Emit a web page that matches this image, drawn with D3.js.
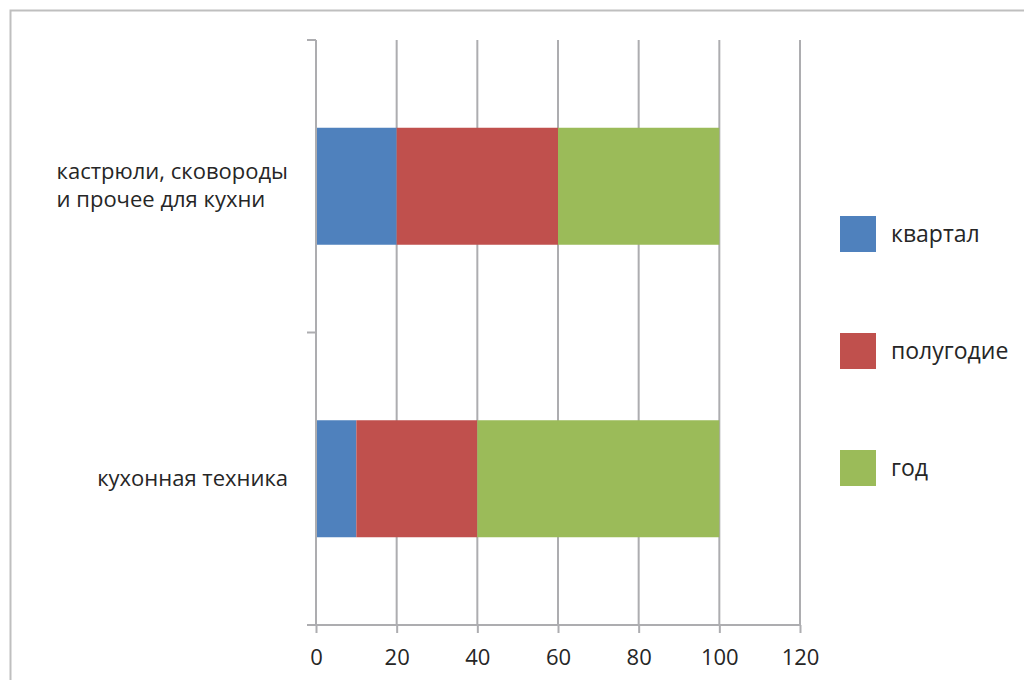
<!DOCTYPE html>
<html><head><meta charset="utf-8">
<script src="https://cdn.jsdelivr.net/npm/d3@7"></script>
<style>body{margin:0;background:#fff}svg{display:block}</style>
</head><body>
<script>
const categories = ["кастрюли, сковороды\nи прочее для кухни", "кухонная техника"];
const seriesNames = ["квартал", "полугодие", "год"];
const kvartal = [20, 10];
const polugodie = [40, 30];
const god = [40, 60];
const xTicks = [0, 20, 40, 60, 80, 100, 120];
const colors = ["#4F81BD", "#C0504D", "#9BBB59"];

const W = 1024, H = 680;
const svg = d3.select("body").append("svg").attr("width", W).attr("height", H);
const font = "'Open Sans', 'Noto Sans', sans-serif";
const txt = "#262626";
const grid = "#ADADB0";

// outer border
svg.append("rect").attr("x", 10.5).attr("y", 10.5).attr("width", W + 20).attr("height", H + 20)
  .attr("fill", "none").attr("stroke", "#BFBFBF").attr("stroke-width", 2);

const x = d3.scaleLinear().domain([0, 120]).range([316, 800]);
const y = d3.scaleBand().domain(categories).range([40, 625]).paddingInner(0.6).paddingOuter(0.3);

// gridlines
svg.append("g").selectAll("line").data(xTicks.slice(1)).join("line")
  .attr("x1", d => x(d)).attr("x2", d => x(d)).attr("y1", 40).attr("y2", 625)
  .attr("stroke", grid).attr("stroke-width", 2);

// stacked data
const rows = categories.map((c, i) => ({cat: c, "квартал": kvartal[i], "полугодие": polugodie[i], "год": god[i]}));
const stack = d3.stack().keys(seriesNames)(rows);
svg.append("g").selectAll("g").data(stack).join("g").attr("fill", (d, i) => colors[i])
  .selectAll("rect").data(d => d).join("rect")
  .attr("x", d => x(d[0])).attr("width", d => x(d[1]) - x(d[0]))
  .attr("y", d => y(d.data.cat)).attr("height", y.bandwidth());

// x axis
const xAxis = d3.axisBottom(x).tickValues(xTicks).tickSize(8).tickPadding(16);
const gx = svg.append("g").attr("transform", "translate(0,625)").call(xAxis);
gx.select(".domain").attr("stroke", grid).attr("stroke-width", 2).attr("d", `M307,0H${x(120)}`);
gx.selectAll(".tick line").attr("stroke", grid).attr("stroke-width", 2);
gx.selectAll("text").attr("font-family", font).attr("font-size", 22).attr("fill", txt);

// y axis
svg.append("line").attr("x1", x(0)).attr("x2", x(0)).attr("y1", 40).attr("y2", 625)
  .attr("stroke", grid).attr("stroke-width", 2);
const yBounds = [40, 40 + y.step(), 625];
svg.append("g").selectAll("line").data(yBounds).join("line")
  .attr("x1", 307).attr("x2", x(0)).attr("y1", d => d).attr("y2", d => d)
  .attr("stroke", grid).attr("stroke-width", 2);

// category labels (left-aligned block, right edge at 288), one text per line
const lineGap = 28;
const cg = svg.append("g").selectAll("g").data(categories).join("g");
cg.each(function(d) {
  const lines = d.split("\n");
  const g = d3.select(this);
  const cy = y(d) + y.bandwidth() / 2;
  const ts = g.selectAll("text").data(lines).join("text")
    .attr("text-anchor", "start").attr("font-family", font).attr("font-size", 22).attr("fill", txt)
    .attr("y", (l, i) => cy + 7 + (i - (lines.length - 1) / 2) * lineGap)
    .text(l => l);
  let maxW = 0;
  ts.each(function() { maxW = Math.max(maxW, this.getComputedTextLength()); });
  ts.attr("x", 288 - maxW);
});

// legend
const legY = [234, 351, 468];
const lg = svg.append("g").selectAll("g").data(seriesNames).join("g")
  .attr("transform", (d, i) => `translate(840,${legY[i]})`);
lg.append("rect").attr("x", 0).attr("y", -18).attr("width", 36).attr("height", 36).attr("fill", (d, i) => colors[i]);
lg.append("text").attr("x", 51).attr("y", 8).attr("font-family", font).attr("font-size", 23).attr("fill", txt).text(d => d);
</script>
</body></html>
